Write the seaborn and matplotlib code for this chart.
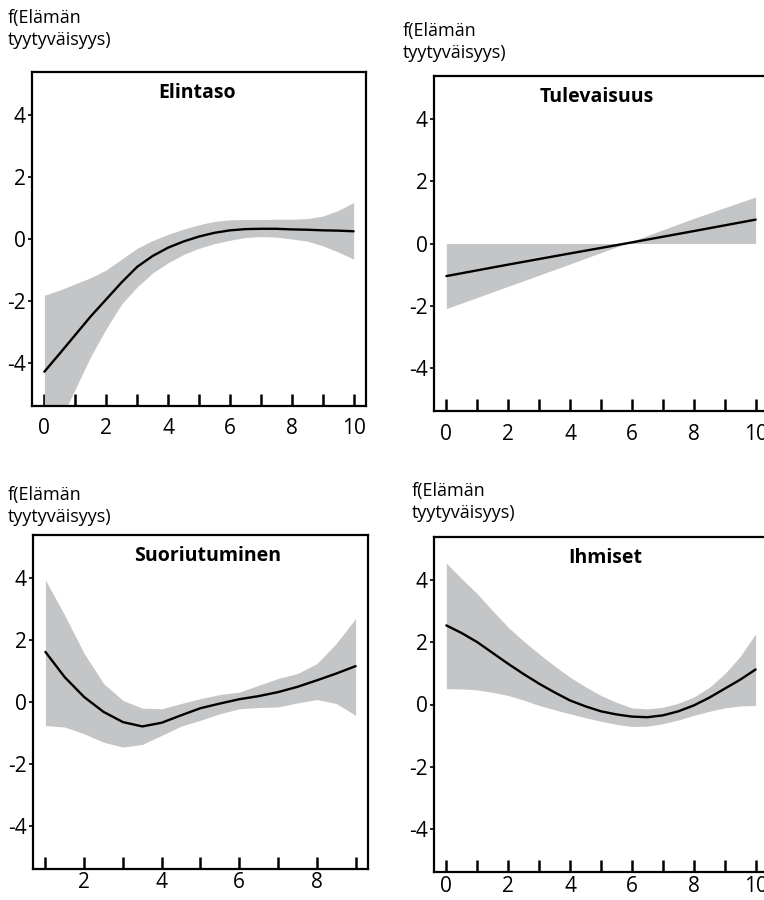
import matplotlib
matplotlib.use("Agg")
import matplotlib.pyplot as plt
import seaborn as sns

# --- Elintaso (x = 0..10) ---
elintaso_x = [0, 0.5, 1, 1.5, 2, 2.5, 3, 3.5, 4, 4.5, 5, 5.5, 6, 6.5, 7, 7.5, 8, 8.5, 9, 9.5, 10]
elintaso_fit = [-4.29, -3.7, -3.1, -2.5, -1.95, -1.4, -0.9, -0.55, -0.28, -0.08, 0.08,
                0.2, 0.28, 0.32, 0.33, 0.33, 0.31, 0.3, 0.28, 0.27, 0.25]
elintaso_upper = [-1.82, -1.65, -1.45, -1.25, -1.0, -0.65, -0.3, -0.05, 0.15, 0.32, 0.46,
                  0.57, 0.62, 0.63, 0.63, 0.64, 0.64, 0.66, 0.74, 0.92, 1.18]
elintaso_lower = [-7.0, -5.9, -4.85, -3.8, -2.9, -2.1, -1.55, -1.1, -0.77, -0.5, -0.3,
                  -0.15, -0.04, 0.05, 0.08, 0.06, 0.0, -0.07, -0.22, -0.42, -0.65]

# --- Tulevaisuus (x = 0..10) ---
tulevaisuus_x = [0, 2, 4, 5.8, 8, 10]
tulevaisuus_fit = [-1.05, -0.68, -0.32, 0.0, 0.40, 0.77]
tulevaisuus_upper = [0, 0, 0, 0, 0.81, 1.5]
tulevaisuus_lower = [-2.1, -1.38, -0.66, 0, 0, 0]

# --- Suoriutuminen (x = 1..9) ---
suoriutuminen_x = [1, 1.5, 2, 2.5, 3, 3.5, 4, 4.5, 5, 5.5, 6, 6.5, 7, 7.5, 8, 8.5, 9]
suoriutuminen_fit = [1.62, 0.8, 0.16, -0.32, -0.65, -0.79, -0.67, -0.43, -0.2,
                     -0.05, 0.09, 0.19, 0.32, 0.49, 0.70, 0.92, 1.16]
suoriutuminen_upper = [3.95, 2.8, 1.57, 0.6, 0.05, -0.2, -0.22, -0.05, 0.11,
                       0.24, 0.32, 0.54, 0.76, 0.92, 1.24, 1.89, 2.7]
suoriutuminen_lower = [-0.76, -0.81, -1.03, -1.3, -1.46, -1.37, -1.08, -0.78, -0.59,
                       -0.38, -0.22, -0.18, -0.16, -0.03, 0.08, -0.05, -0.43]

# --- Ihmiset (x = 0..10) ---
ihmiset_x = [0, 0.5, 1, 1.5, 2, 2.5, 3, 3.5, 4, 4.5, 5, 5.5, 6, 6.5, 7, 7.5, 8, 8.5, 9, 9.5, 10]
ihmiset_fit = [2.55, 2.3, 2.01, 1.66, 1.31, 0.98, 0.67, 0.39, 0.13, -0.06, -0.22,
               -0.32, -0.39, -0.41, -0.35, -0.22, -0.03, 0.22, 0.51, 0.8, 1.13]
ihmiset_upper = [4.56, 4.05, 3.57, 3.02, 2.49, 2.04, 1.63, 1.24, 0.88, 0.57, 0.29,
                 0.07, -0.11, -0.14, -0.09, 0.04, 0.24, 0.55, 0.99, 1.55, 2.28]
ihmiset_lower = [0.51, 0.5, 0.47, 0.39, 0.29, 0.14, -0.03, -0.17, -0.3, -0.43, -0.54,
                 -0.64, -0.71, -0.7, -0.62, -0.5, -0.35, -0.22, -0.11, -0.05, -0.03]

titles = ["Elintaso", "Tulevaisuus", "Suoriutuminen", "Ihmiset"]
ylabel = "f(Elämän\ntyytyväisyys)"
y_ticks = [-4, -2, 0, 2, 4]

panels = [
    (elintaso_x, elintaso_fit, elintaso_upper, elintaso_lower),
    (tulevaisuus_x, tulevaisuus_fit, tulevaisuus_upper, tulevaisuus_lower),
    (suoriutuminen_x, suoriutuminen_fit, suoriutuminen_upper, suoriutuminen_lower),
    (ihmiset_x, ihmiset_fit, ihmiset_upper, ihmiset_lower),
]

W, H = 764, 900
# axes boxes in pixels: left, top, width, height (right column runs off the page,
# as in the original scan)
boxes = [(32, 72, 334, 334), (434, 76, 334, 335), (33, 535, 335, 334), (434, 537, 334, 335)]
label_pos = [(8, 9), (403, 22), (8, 486), (412, 482)]
title_x = [0.494, 0.488, 0.522, 0.512]
xlabel_pad = [9, 9, 2.5, 3]

sns.set_style("ticks")
plt.rcParams["font.family"] = ["Open Sans", "DejaVu Sans"]
plt.rcParams["axes.unicode_minus"] = False
plt.rcParams["text.color"] = "black"
plt.rcParams["xtick.color"] = "black"
plt.rcParams["ytick.color"] = "black"

fig = plt.figure(figsize=(W / 100, H / 100), dpi=100)

for i, (x, fit, upper, lower) in enumerate(panels):
    left, top, w, h = boxes[i]
    ax = fig.add_axes([left / W, (H - top - h) / H, w / W, h / H])

    ax.fill_between(x, lower, upper, color="#c4c5c7", linewidth=0)
    sns.lineplot(x=x, y=fit, color="black", linewidth=1.7, ax=ax)

    x0, x1 = int(min(x)), int(round(max(x)))
    pad = 0.04 * (x1 - x0)
    ax.set_xlim(x0 - pad, x1 + pad)
    ax.set_ylim(-5.4, 5.4)

    xt = list(range(x0, x1 + 1))
    ax.set_xticks(xt)
    ax.set_xticklabels([str(t) if t % 2 == 0 else "" for t in xt])
    ax.set_yticks(y_ticks)
    ax.set_yticklabels([str(t) for t in y_ticks])

    ax.tick_params(axis="x", direction="in", length=9, width=1.8,
                   pad=xlabel_pad[i], labelsize=15)
    ax.tick_params(axis="y", direction="out", length=3, width=1.2, pad=1.5, labelsize=15)
    for s in ax.spines.values():
        s.set_linewidth(1.6)
        s.set_color("black")

    ax.set_xlabel("")
    ax.set_ylabel("")
    ax.text(title_x[i], 0.938, titles[i], transform=ax.transAxes,
            ha="center", va="center", fontsize=14, fontweight="bold")

    lx, ly = label_pos[i]
    fig.text(lx / W, 1 - ly / H, ylabel, ha="left", va="top",
             fontsize=13, linespacing=1.3)

fig.savefig("out.png", dpi=100)
